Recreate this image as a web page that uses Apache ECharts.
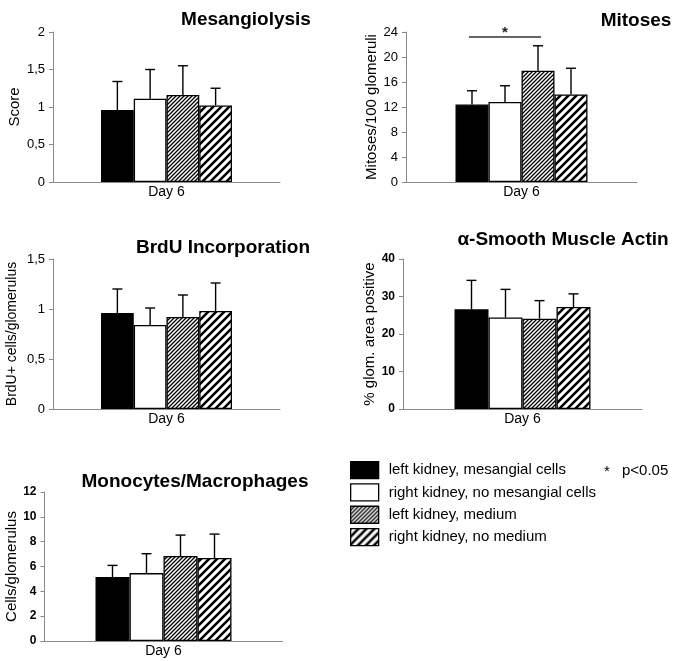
<!DOCTYPE html>
<html>
<head>
<meta charset="utf-8">
<script src="https://cdn.jsdelivr.net/npm/echarts@6/dist/echarts.min.js"></script>
<style>
html,body{margin:0;padding:0;background:#fff;}
#c{width:676px;height:661px;}
</style>
</head>
<body>
<div id="c"></div>
<script>
// ---------- data ----------
const categories = ['Day 6'];
const groupNames = ['left kidney, mesangial cells', 'right kidney, no mesangial cells', 'left kidney, medium', 'right kidney, no medium'];

const mesoMean = [0.96, 1.11, 1.16, 1.02];
const mesoSD   = [0.38, 0.39, 0.39, 0.23];
const mesoTicks = [0, 0.5, 1, 1.5, 2];

const mitMean = [12.4, 12.8, 17.8, 14.0];
const mitSD   = [2.2, 2.6, 4.0, 4.2];
const mitTicks = [0, 4, 8, 12, 16, 20, 24];
const mitSig = [0, 2, 23.2]; // bar a, bar b, level

const brduMean = [0.96, 0.84, 0.92, 0.98];
const brduSD   = [0.24, 0.17, 0.22, 0.28];
const brduTicks = [0, 0.5, 1, 1.5];

const smaMean = [26.6, 24.4, 24.1, 27.2];
const smaSD   = [7.7, 7.5, 4.8, 3.5];
const smaTicks = [0, 10, 20, 30, 40];

const monoMean = [5.15, 5.47, 6.84, 6.68];
const monoSD   = [0.94, 1.56, 1.69, 1.93];
const monoTicks = [0, 2, 4, 6, 8, 10, 12];

const titles = ['Mesangiolysis', 'Mitoses', 'BrdU Incorporation', '\u03B1-Smooth Muscle Actin', 'Monocytes/Macrophages'];
const yNames = ['Score', 'Mitoses/100 glomeruli', 'BrdU+ cells/glomerulus', '% glom. area positive', 'Cells/glomerulus'];
const noteStar = '*';
const noteText = 'p<0.05';

// ---------- styles ----------
const FONT = '"Liberation Sans", Arial, sans-serif';
function hatch(size, lw) {
  const c = document.createElement('canvas');
  c.width = size; c.height = size;
  const ctx = c.getContext('2d');
  ctx.fillStyle = '#fff'; ctx.fillRect(0, 0, size, size);
  ctx.strokeStyle = '#000'; ctx.lineWidth = lw;
  ctx.beginPath();
  ctx.moveTo(-size, 2 * size); ctx.lineTo(2 * size, -size);
  ctx.moveTo(-size, size); ctx.lineTo(size, -size);
  ctx.moveTo(0, 2 * size); ctx.lineTo(2 * size, 0);
  ctx.stroke();
  return c;
}
const fills = ['#000', '#fff', {image: hatch(4, 1.3), repeat: 'repeat'}, {image: hatch(8, 2.6), repeat: 'repeat'}];

const panels = [
  {mean: mesoMean, sd: mesoSD, ticks: mesoTicks, grid: {left: 53, top: 32, width: 227, height: 150}, bw: 32.75, bold: false, nameGap: 31, nameSize: 15, comma: true},
  {mean: mitMean, sd: mitSD, ticks: mitTicks, grid: {left: 406, top: 32, width: 231, height: 150}, bw: 33, bold: false, nameGap: 24, nameSize: 15, comma: false},
  {mean: brduMean, sd: brduSD, ticks: brduTicks, grid: {left: 53, top: 259, width: 227, height: 150}, bw: 32.75, bold: false, nameGap: 34, nameSize: 14, comma: true},
  {mean: smaMean, sd: smaSD, ticks: smaTicks, grid: {left: 403, top: 259, width: 239, height: 150}, bw: 34, bold: true, nameGap: 25, nameSize: 15, comma: false},
  {mean: monoMean, sd: monoSD, ticks: monoTicks, grid: {left: 44.5, top: 492, width: 238, height: 149}, bw: 34, bold: true, nameGap: 18, nameSize: 15, comma: false}
];
const titlePos = [[246, 20], [636, 21], [223, 248], [563, 240], [195, 482]];

const grids = [], xAxes = [], yAxes = [], series = [];
panels.forEach((p, k) => {
  grids.push(p.grid);
  xAxes.push({
    type: 'category', gridIndex: k, data: categories,
    axisLine: {lineStyle: {color: '#8a8a8a', width: 1}},
    axisTick: {show: false},
    axisLabel: {color: '#000', fontSize: 14, fontFamily: FONT, margin: 3}
  });
  const step = p.ticks[1] - p.ticks[0];
  yAxes.push({
    type: 'value', gridIndex: k, min: p.ticks[0], max: p.ticks[p.ticks.length - 1], interval: step,
    splitLine: {show: false},
    axisLine: {show: true, lineStyle: {color: '#8a8a8a', width: 1}},
    axisTick: {show: true, length: 4, lineStyle: {color: '#8a8a8a'}},
    axisLabel: {
      color: '#000', fontSize: p.bold ? 12 : 13, fontWeight: p.bold ? 'bold' : 'normal', fontFamily: FONT, margin: 8,
      formatter: v => p.comma ? String(v).replace('.', ',') : String(v)
    },
    name: yNames[k], nameLocation: 'middle', nameRotate: 90, nameGap: p.nameGap,
    nameTextStyle: {color: '#000', fontSize: p.nameSize, fontFamily: FONT}
  });
  groupNames.forEach((nm, i) => {
    series.push({
      type: 'bar', name: nm, xAxisIndex: k, yAxisIndex: k,
      data: [p.mean[i]], barWidth: p.bw, barGap: '0%',
      itemStyle: {color: fills[i], borderColor: '#000', borderWidth: 1.3},
      emphasis: {disabled: true}, animation: false
    });
  });
  const bw = p.bw;
  series.push({
    type: 'custom', xAxisIndex: k, yAxisIndex: k, z: 5, animation: false, silent: true,
    data: p.mean.map((m, i) => [0, m, p.sd[i], i]),
    renderItem: function (params, api) {
      const base = api.coord([0, api.value(1)]);
      const top = api.coord([0, api.value(1) + api.value(2)]);
      const x = base[0] + (api.value(3) - 1.5) * bw;
      return {type: 'group', children: [
        {type: 'line', shape: {x1: x, y1: base[1], x2: x, y2: top[1]}, style: {stroke: '#000', lineWidth: 1.4}},
        {type: 'line', shape: {x1: x - 5, y1: top[1], x2: x + 5, y2: top[1]}, style: {stroke: '#000', lineWidth: 1.4}}
      ]};
    }
  });
});

// significance bracket in panel 2
series.push({
  type: 'custom', xAxisIndex: 1, yAxisIndex: 1, z: 6, animation: false, silent: true,
  data: [[0, mitSig[2], mitSig[0], mitSig[1]]],
  renderItem: function (params, api) {
    const c = api.coord([0, api.value(1)]);
    const bw = panels[1].bw;
    const xa = c[0] + (api.value(2) - 1.5) * bw - 3;
    const xb = c[0] + (api.value(3) - 1.5) * bw + 3;
    return {type: 'group', children: [
      {type: 'line', shape: {x1: xa, y1: c[1], x2: xb, y2: c[1]}, style: {stroke: '#333', lineWidth: 1.6}},
      {type: 'text', x: (xa + xb) / 2, y: c[1] - 4, style: {text: '*', font: 'bold 15px ' + FONT, fill: '#222', textAlign: 'center', textVerticalAlign: 'middle'}}
    ]};
  }
});

const graphics = titles.map((t, k) => ({
  type: 'text', x: titlePos[k][0], y: titlePos[k][1],
  style: {text: t, font: 'bold 19px ' + FONT, fill: '#000', textAlign: 'center', textVerticalAlign: 'middle'}
}));
graphics.push({type: 'text', x: 607, y: 472, style: {text: noteStar, font: '15px ' + FONT, fill: '#000', textAlign: 'center', textVerticalAlign: 'middle'}});
graphics.push({type: 'text', x: 622, y: 471, style: {text: noteText, font: '15px ' + FONT, fill: '#000', textAlign: 'left', textVerticalAlign: 'middle'}});

const chart = echarts.init(document.getElementById('c'), null, {renderer: 'canvas'});
chart.setOption({
  backgroundColor: '#fff',
  animation: false,
  grid: grids,
  xAxis: xAxes,
  yAxis: yAxes,
  legend: {
    data: groupNames, orient: 'vertical', left: 350, top: 461, padding: 0,
    itemWidth: 28, itemHeight: 17, itemGap: 4, icon: 'rect', selectedMode: false,
    itemStyle: {borderColor: '#000', borderWidth: 1.3},
    textStyle: {color: '#000', fontSize: 15, fontFamily: FONT, padding: [0, 0, 0, 5]}
  },
  graphic: graphics,
  series: series
});
</script>
</body>
</html>
